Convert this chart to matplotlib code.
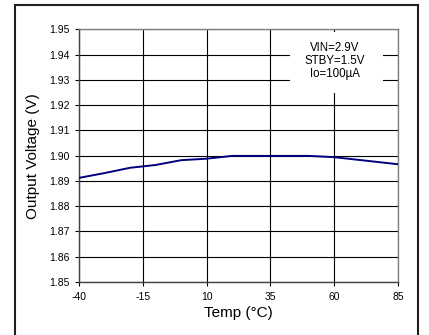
import matplotlib.pyplot as plt
from matplotlib.patches import Rectangle

# data
temps = [-40, -30, -20, -10, 0, 10, 20, 35, 50, 60, 85]
vout = [1.8912, 1.8931, 1.8952, 1.8963, 1.8982, 1.8988, 1.8999, 1.8999, 1.8999, 1.8994, 1.8966]

x_ticks = [-40, -15, 10, 35, 60, 85]
y_ticks = [1.85, 1.86, 1.87, 1.88, 1.89, 1.90, 1.91, 1.92, 1.93, 1.94, 1.95]
conditions = ["VIN=2.9V", "STBY=1.5V", "Io=100\u00b5A"]

plt.rcParams["font.family"] = ["Liberation Sans", "DejaVu Sans"]
plt.rcParams["axes.unicode_minus"] = False

W, H = 429, 335
fig = plt.figure(figsize=(W / 100, H / 100), dpi=100)
ax = fig.add_axes([79 / W, 1 - 282 / H, (398 - 79) / W, (282 - 29.3) / H])

ax.plot(temps, vout, color="#000080", linewidth=1.4, zorder=3)

ax.set_xlim(-40, 85)
ax.set_ylim(1.85, 1.95)
ax.set_xticks(x_ticks)
ax.set_yticks(y_ticks)
ax.set_yticklabels([f"{v:.2f}" for v in y_ticks])
ax.tick_params(labelsize=7.5, length=3, width=0.8, color="black", pad=4)
ax.grid(True, color="black", linewidth=0.8)
ax.set_axisbelow(True)

for side in ["top", "right"]:
    ax.spines[side].set_color("#808080")
    ax.spines[side].set_linewidth(1.0)
for side in ["left", "bottom"]:
    ax.spines[side].set_color("#404040")
    ax.spines[side].set_linewidth(1.0)

ax.set_xlabel("Temp (\u00b0C)", fontsize=11, labelpad=3)
ax.set_ylabel("Output Voltage (V)", fontsize=11, labelpad=6)

# white box behind the test conditions
ax.add_patch(Rectangle((290 / W, 1 - 93 / H), (383 - 290) / W, (93 - 32) / H,
                       transform=fig.transFigure, facecolor="white",
                       edgecolor="none", zorder=2))
for i, txt in enumerate(conditions):
    fig.text(335 / W, 1 - (48 + 13 * i) / H, txt, fontsize=8.3,
             ha="center", va="center", zorder=5)

# outer frame
fig.patches.append(Rectangle((15 / W, -0.02), (418 - 15) / W, 1.02 - 4.7 / H,
                             transform=fig.transFigure, fill=False,
                             edgecolor="#202020", linewidth=1.5))

fig.savefig("out.png", dpi=100)
